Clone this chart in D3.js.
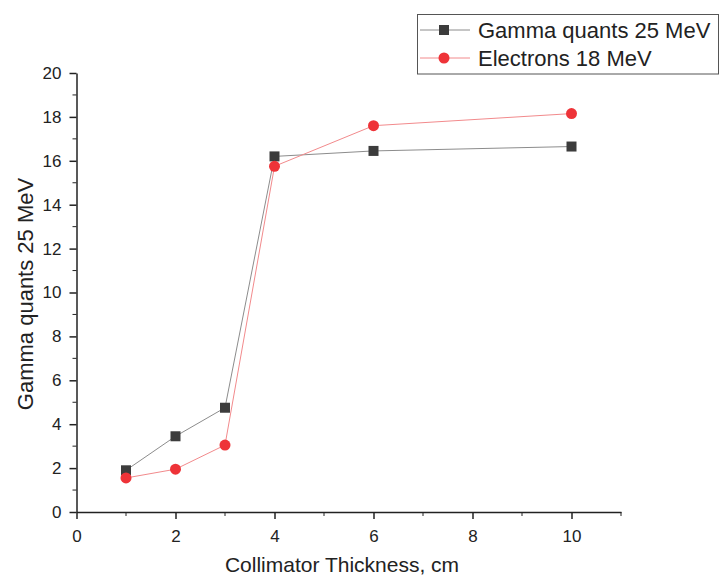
<!DOCTYPE html>
<html>
<head>
<meta charset="utf-8">
<script src="https://cdn.jsdelivr.net/npm/d3@7"></script>
<style>
  body { margin: 0; background: #fff; }
  text { font-family: "Liberation Sans", Arial, sans-serif; fill: #222; }
</style>
</head>
<body>
<svg id="chart" width="720" height="578"></svg>
<script>
// data
var thickness = [1, 2, 3, 4, 6, 10];
var gammaValues = [1.9, 3.45, 4.75, 16.2, 16.45, 16.65];
var electronValues = [1.55, 1.95, 3.05, 15.75, 17.6, 18.15];
var seriesNames = ["Gamma quants 25 MeV", "Electrons 18 MeV"];
var xTicks = [0, 2, 4, 6, 8, 10];
var yTicks = [0, 2, 4, 6, 8, 10, 12, 14, 16, 18, 20];

function main() {
    var svg = d3.select("#chart");

    var x = d3.scaleLinear().domain([0, 11]).range([76.5, 621]),
        y = d3.scaleLinear().domain([0, 20]).range([512, 73]);

    // minor ticks
    var minorX = d3.range(1, 12, 2), minorY = d3.range(1, 20, 2);

    var xAxis = svg.append("g")
        .attr("transform", "translate(0,512)")
        .call(d3.axisBottom(x).tickValues(xTicks).tickSize(7).tickSizeOuter(0).tickPadding(11));
    xAxis.append("g").selectAll("line")
        .data(minorX).enter().append("line")
        .attr("x1", function(d) { return x(d); })
        .attr("x2", function(d) { return x(d); })
        .attr("y1", 0).attr("y2", 4)
        .attr("stroke", "#222");

    var yAxis = svg.append("g")
        .attr("transform", "translate(76.5,0)")
        .call(d3.axisLeft(y).tickValues(yTicks).tickSize(7).tickSizeOuter(0).tickPadding(8));
    yAxis.append("g").selectAll("line")
        .data(minorY).enter().append("line")
        .attr("y1", function(d) { return y(d); })
        .attr("y2", function(d) { return y(d); })
        .attr("x1", 0).attr("x2", -4)
        .attr("stroke", "#222");

    svg.selectAll(".domain, .tick line").attr("stroke", "#222").attr("stroke-width", 1.5);
    svg.selectAll(".tick text")
        .style("font-family", "'Liberation Sans', Arial, sans-serif")
        .style("font-size", "17px")
        .attr("fill", "#222");

    // axis titles
    svg.append("text")
        .attr("x", 342).attr("y", 572)
        .attr("text-anchor", "middle")
        .style("font-size", "21px")
        .text("Collimator Thickness, cm");
    svg.append("text")
        .attr("transform", "translate(33,294) rotate(-90)")
        .attr("text-anchor", "middle")
        .style("font-size", "22px")
        .text("Gamma quants 25 MeV");

    var line = d3.line()
        .x(function(d) { return x(d[0]); })
        .y(function(d) { return y(d[1]); });

    var gammaPts = d3.zip(thickness, gammaValues),
        elecPts = d3.zip(thickness, electronValues);

    svg.append("path").datum(gammaPts)
        .attr("d", line).attr("fill", "none")
        .attr("stroke", "#8c8c8c").attr("stroke-width", 1);
    svg.append("path").datum(elecPts)
        .attr("d", line).attr("fill", "none")
        .attr("stroke", "#f28a8c").attr("stroke-width", 1);

    svg.selectAll(".sq").data(gammaPts).enter().append("rect")
        .attr("class", "sq")
        .attr("x", function(d) { return x(d[0]) - 5; })
        .attr("y", function(d) { return y(d[1]) - 5; })
        .attr("width", 10).attr("height", 10)
        .attr("fill", "#3c3c3c");

    svg.selectAll(".dot").data(elecPts).enter().append("circle")
        .attr("class", "dot")
        .attr("cx", function(d) { return x(d[0]); })
        .attr("cy", function(d) { return y(d[1]); })
        .attr("r", 5.5)
        .attr("fill", "#ee3338");

    // legend
    var leg = svg.append("g");
    leg.append("rect")
        .attr("x", 417.5).attr("y", 14.5)
        .attr("width", 301).attr("height", 59.5)
        .attr("fill", "#fff").attr("stroke", "#555").attr("stroke-width", 1);

    var rows = [30, 58];
    leg.append("line").attr("x1", 420).attr("x2", 470).attr("y1", rows[0]).attr("y2", rows[0])
        .attr("stroke", "#8c8c8c");
    leg.append("rect").attr("x", 439).attr("y", rows[0] - 5).attr("width", 10).attr("height", 10)
        .attr("fill", "#3c3c3c");
    leg.append("line").attr("x1", 420).attr("x2", 470).attr("y1", rows[1]).attr("y2", rows[1])
        .attr("stroke", "#f28a8c");
    leg.append("circle").attr("cx", 444).attr("cy", rows[1]).attr("r", 5.5)
        .attr("fill", "#ee3338");

    leg.selectAll(".ltxt").data(seriesNames).enter().append("text")
        .attr("class", "ltxt")
        .attr("x", 478)
        .attr("y", function(d, i) { return rows[i] + 7.5; })
        .style("font-size", "22px")
        .text(function(d) { return d; });
}
main();
</script>
</body>
</html>
